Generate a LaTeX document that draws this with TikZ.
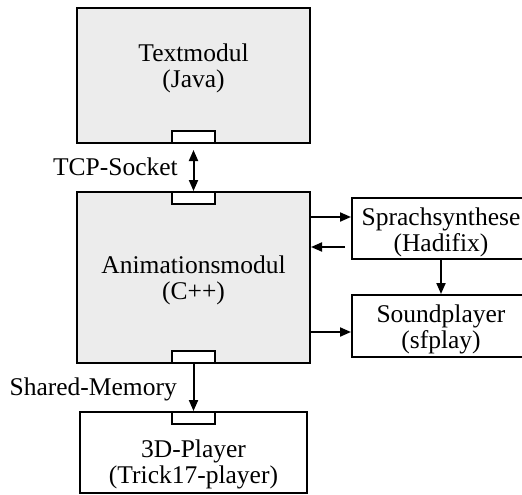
\documentclass[tikz,border=0pt]{standalone}
\usepackage{fontspec}
\setmainfont{Liberation Serif}
\usetikzlibrary{arrows.meta}
\definecolor{modulgrau}{HTML}{ECECEC}

\begin{document}
\begin{tikzpicture}[x=1pt, y=-1pt,
    every node/.style={font=\fontsize{25.5}{26}\selectfont},
    modul/.style={draw, line width=2pt, fill=modulgrau, inner sep=0pt},
    kasten/.style={draw, line width=2pt, fill=white, inner sep=0pt},
    port/.style={draw, line width=1.8pt, fill=white, inner sep=0pt, minimum width=43pt, minimum height=12pt},
    lbl/.style={align=center, inner sep=0pt},
    pfeil/.style={line width=2pt, -{Triangle[length=11pt, width=9pt]}}]
    \useasboundingbox (0,0) rectangle (522,495);
    \clip (0,0) rectangle (522,495);

    % Module
    \node[modul, minimum width=233pt, minimum height=135pt] (textmodul) at (193.5,75.5) {};
    \node[modul, minimum width=233pt, minimum height=171pt] (anim) at (193.5,277.5) {};
    \node[kasten, minimum width=227pt, minimum height=81pt] (player) at (193.5,452.5) {};
    \node[kasten, minimum width=178pt, minimum height=61pt] (sprach) at (441,228.5) {};
    \node[kasten, minimum width=178pt, minimum height=62pt] (sound) at (441,326) {};

    % Schnittstellen
    \node[port, anchor=south] (textport) at (textmodul.south) {};
    \node[port, anchor=north] (animtop) at (anim.north) {};
    \node[port, anchor=south] (animbottom) at (anim.south) {};
    \node[port, anchor=north] (playerport) at (player.north) {};

    % Beschriftungen
    \node[lbl] (textname) at (193.5,68) {Textmodul\\(Java)};
    \node[lbl] (animname) at (193.5,280.5) {Animationsmodul\\(C++)};
    \node[lbl] (playername) at (193.5,464.5) {3D-Player\\(Trick17-player)};
    \node[lbl] (sprachname) at (441,232) {Sprachsynthese\\(Hadifix)};
    \node[lbl] (soundname) at (441,329.5) {Soundplayer\\(sfplay)};

    % Verbindungen
    \draw[pfeil, {Triangle[length=11pt, width=9pt]}-{Triangle[length=11pt, width=9pt]}, shorten <=6pt]
        (textport.south) -- (animtop.north);
    \node[anchor=base east, inner sep=0pt] (tcp) at (178,175) {TCP-Socket};
    \draw[pfeil] (animbottom.south) -- (playerport.north);
    \node[anchor=base east, inner sep=0pt] (shm) at (177,395) {Shared-Memory};

    \draw[pfeil] (anim.east |- 0,217) -- (sprach.west |- 0,217);
    \draw[pfeil, shorten <=6pt] (sprach.west |- 0,247) -- (anim.east |- 0,247);
    \draw[pfeil] (sprach.south) -- (sound.north);
    \draw[pfeil] (anim.east |- 0,332) -- (sound.west |- 0,332);
\end{tikzpicture}
\end{document}
